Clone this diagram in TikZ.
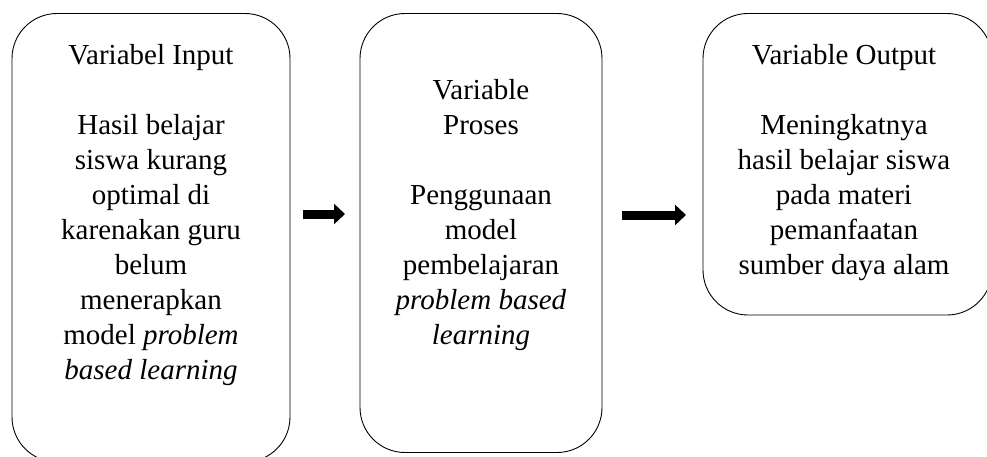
\documentclass[tikz,border=0pt]{standalone}
\usepackage{fontspec}
\setmainfont{Liberation Serif}
\usetikzlibrary{arrows.meta}
\begin{document}
\begin{tikzpicture}[x=1pt,y=-1pt,
  box/.style={draw, line width=0.9pt, rounded corners=45pt, inner sep=0pt},
  txt/.style={align=center, anchor=north, inner sep=0pt, font=\fontsize{29}{35}\selectfont},
  fat/.style={line width=9pt, -{Triangle[width=20pt,length=11pt]}}]
\useasboundingbox (0,0) rectangle (987,457);
\clip (0,0) rectangle (987,457);
\node[box, minimum width=278pt, minimum height=448.5pt] (b1) at (151,237.75) {};
\node[box, minimum width=242pt, minimum height=439pt] (b2) at (481,233) {};
\node[box, minimum width=289pt, minimum height=301.5pt] (b3) at (847.5,164.25) {};
\node[txt] (t1) at (151,44) {Variabel Input\\[35pt]Hasil belajar\\siswa kurang\\optimal di\\karenakan guru\\belum\\menerapkan\\model \textit{problem}\\\textit{based learning}};
\node[txt] (t2) at (481,79) {Variable\\Proses\\[35pt]Penggunaan\\model\\pembelajaran\\\textit{problem based}\\\textit{learning}};
\node[txt] (t3) at (844,44) {Variable Output\\[35pt]Meningkatnya\\hasil belajar siswa\\pada materi\\pemanfaatan\\sumber daya alam};
\coordinate (a1s) at (303,214);
\coordinate (a1e) at (345,214);
\coordinate (a2s) at (622,215);
\coordinate (a2e) at (686,215);
\draw[fat] (a1s) -- (a1e);
\draw[fat] (a2s) -- (a2e);
\end{tikzpicture}
\end{document}
